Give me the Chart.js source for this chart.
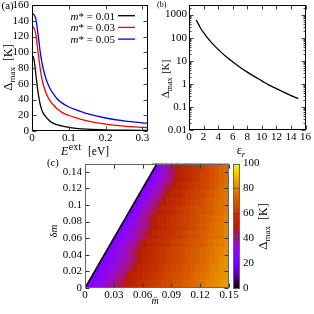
<!DOCTYPE html>
<html>
<head>
<meta charset="utf-8">
<script src="https://cdn.jsdelivr.net/npm/chart.js@4.4.1/dist/chart.umd.min.js"></script>
<style>
html, body { margin: 0; padding: 0; background: #fff; }
#cizim { position: relative; width: 314px; height: 314px; }
#cizim canvas { position: absolute; left: 0; top: 0; }
</style>
</head>
<body>
<div id="cizim">
<canvas id="grafikA" width="314" height="314"></canvas>
<canvas id="grafikB" width="314" height="314"></canvas>
<canvas id="grafikC" width="314" height="314"></canvas>
</div>
<script>
const SERIF = "'Liberation Serif', 'DejaVu Serif', serif";

// (a) Delta_max vs E_ext for three m*
const eExt = [0, 0.005, 0.01, 0.015, 0.02, 0.025, 0.03, 0.04, 0.05, 0.06, 0.07, 0.08, 0.1, 0.12, 0.15, 0.2, 0.25, 0.3, 0.315];
const delta001 = [96, 92, 74, 54, 39, 29, 23, 16.7, 12.2, 9.4, 7.8, 6.4, 4.5, 3.3, 2.3, 1.4, 0.95, 0.65, 0.6];
const delta003 = [133, 131, 124, 106, 87, 71, 60, 46, 37.7, 32, 27.7, 24, 19.7, 16.8, 13, 8.8, 6.3, 4.7, 4.3];
const delta005 = [149, 148, 143, 128, 109, 92, 80, 63.5, 53, 46, 40, 36, 30.5, 26.8, 22, 16.5, 12.8, 10.3, 9.7];
const mStarLabels = ["0.01", "0.03", "0.05"];
const aXTicks = [0, 0.1, 0.2, 0.3];
const aYTicks = [0, 20, 40, 60, 80, 100, 120, 140, 160];

// (b) Delta_max vs eps_r
const epsR = [1, 1.5, 2, 3, 4, 5, 6, 7, 8, 9, 10, 11, 12, 13, 14, 15];
const deltaEps = [580, 290, 165, 66, 31, 16, 9, 5.2, 3.2, 2.05, 1.35, 0.88, 0.62, 0.44, 0.31, 0.23];
const bXTicks = [0, 2, 4, 6, 8, 10, 12, 14, 16];
const bYTicks = [0.01, 0.1, 1, 10, 100, 1000];

// (c) Delta_max over (m bar, delta m)
const _ = null;
const mBar = [0.0025, 0.0075, 0.0125, 0.0175, 0.0225, 0.0275, 0.0325, 0.0375, 0.0425, 0.0475,
              0.0525, 0.0575, 0.0625, 0.0675, 0.0725, 0.0775, 0.0825, 0.0875, 0.0925, 0.0975,
              0.1025, 0.1075, 0.1125, 0.1175, 0.1225, 0.1275, 0.1325, 0.1375, 0.1425, 0.1475];
const deltaMRows = [0.005, 0.015, 0.025, 0.035, 0.045, 0.055, 0.065, 0.075, 0.085, 0.095, 0.105, 0.115, 0.125, 0.135, 0.145];
const haritaDeger = [
  [22,26,29,32,35,38,41,45,50,53,55,57,58,60,62,63,65,66,68,70,71,73,74,76,77,79,81,82,84,85],
  [_,22,26,29,32,35,38,41,45,50,53,55,57,58,60,62,63,65,67,68,70,71,73,75,76,78,79,81,82,84],
  [_,_,22,26,29,32,35,38,41,45,50,53,55,57,58,60,62,64,65,67,69,70,72,74,75,77,79,80,82,83],
  [_,_,_,22,26,29,32,35,38,41,45,50,53,55,57,58,60,62,64,65,67,69,71,72,74,76,78,79,81,83],
  [_,_,_,_,22,27,31,34,37,41,45,50,53,55,57,58,60,62,64,65,67,69,70,72,74,75,77,79,80,82],
  [_,_,_,_,_,22,27,31,34,37,41,45,50,53,55,57,58,60,62,64,65,67,69,71,72,74,76,78,79,81],
  [_,_,_,_,_,_,22,27,31,34,37,41,45,50,53,55,57,58,60,62,64,66,67,69,71,73,75,76,78,80],
  [_,_,_,_,_,_,_,22,27,31,34,37,41,45,50,53,55,57,59,61,62,64,66,68,70,72,74,76,78,80],
  [_,_,_,_,_,_,_,_,22,28,32,36,40,45,50,53,55,57,59,61,62,64,66,68,70,72,73,75,77,79],
  [_,_,_,_,_,_,_,_,_,22,28,32,36,40,45,50,53,55,57,59,61,63,65,67,68,70,72,74,76,78],
  [_,_,_,_,_,_,_,_,_,_,22,28,32,36,40,45,50,53,55,57,59,61,63,65,67,70,72,74,76,78],
  [_,_,_,_,_,_,_,_,_,_,_,22,28,32,36,40,45,50,53,55,57,60,62,64,66,68,70,73,75,77],
  [_,_,_,_,_,_,_,_,_,_,_,_,22,28,32,36,40,45,50,53,55,57,60,62,64,66,69,71,74,76],
  [_,_,_,_,_,_,_,_,_,_,_,_,_,22,28,32,36,40,45,50,53,55,58,60,63,65,68,70,73,75],
  [_,_,_,_,_,_,_,_,_,_,_,_,_,_,22,29,34,39,45,50,53,55,58,60,63,65,68,70,73,75]
];
const sinirM = [0, 0.075];
const sinirDm = [0, 0.15];
const cXTicks = [0, 0.03, 0.06, 0.09, 0.12, 0.15];
const cYTicks = [0, 0.02, 0.04, 0.06, 0.08, 0.1, 0.12, 0.14];
const renkTicks = [0, 20, 40, 60, 80, 100];

Chart.defaults.font.family = SERIF;
Chart.defaults.font.size = 11;
Chart.defaults.color = "#000";

// gnuplot 7,5,15 palette
function palet(t) {
    t = Math.min(1, Math.max(0, t));
    const r = Math.sqrt(t), g = t * t * t, b = Math.max(0, Math.sin(2 * Math.PI * t));
    return "rgb(" + Math.round(r * 255) + "," + Math.round(g * 255) + "," + Math.round(b * 255) + ")";
}

function yaz(ctx, parcalar, x, y, hiza) {
    let w = 0;
    parcalar.forEach(p => {
        ctx.font = (p.i ? "italic " : "") + p.f + "px " + SERIF;
        p.w = ctx.measureText(p.t).width;
        w += (p.gap || 0) + p.w;
    });
    let cx = hiza === "center" ? x - w / 2 : hiza === "right" ? x - w : x;
    ctx.textAlign = "left";
    ctx.textBaseline = "alphabetic";
    parcalar.forEach(p => {
        cx += p.gap || 0;
        ctx.font = (p.i ? "italic " : "") + p.f + "px " + SERIF;
        ctx.fillText(p.t, cx, y + (p.dy || 0));
        cx += p.w;
    });
}

function dikey(ctx, parcalar, x, y) {
    ctx.save();
    ctx.translate(x, y);
    ctx.rotate(-Math.PI / 2);
    yaz(ctx, parcalar, 0, 0, "center");
    ctx.restore();
}

function eksen(tikler, ekstra) {
    return Object.assign({
        type: "linear",
        grid: { display: false, drawTicks: false },
        border: { display: false },
        ticks: { padding: 3, autoSkip: false, maxRotation: 0, callback: v => String(v) },
        afterBuildTicks: s => { s.ticks = tikler.map(v => ({ value: v })); }
    }, ekstra);
}

function boyut(w, h) {
    return s => {
        if (w !== null) s.width = w;
        if (h !== null) s.height = h;
        s.paddingLeft = 0; s.paddingRight = 0; s.paddingTop = 0; s.paddingBottom = 0;
    };
}

// frame with inward ticks on all four sides
function cerceve(cerceveRenk, tikRenk, boy, logMinor) {
    return {
        id: "cerceve",
        afterDatasetsDraw(chart) {
            const ctx = chart.ctx, a = chart.chartArea;
            const x = chart.scales.x, y = chart.scales.y;
            const l = Math.round(a.left) + 0.5, r = Math.round(a.right) - 0.5;
            const t = Math.round(a.top) + 0.5, b = Math.round(a.bottom) - 0.5;
            ctx.save();
            ctx.lineWidth = 1;
            ctx.strokeStyle = tikRenk;
            ctx.beginPath();
            x.ticks.forEach(tk => {
                const px = Math.round(x.getPixelForValue(tk.value)) + 0.5;
                ctx.moveTo(px, b); ctx.lineTo(px, b - boy);
                ctx.moveTo(px, t); ctx.lineTo(px, t + boy);
            });
            y.ticks.forEach(tk => {
                const py = Math.round(y.getPixelForValue(tk.value)) + 0.5;
                ctx.moveTo(l, py); ctx.lineTo(l + boy, py);
                ctx.moveTo(r, py); ctx.lineTo(r - boy, py);
            });
            if (logMinor) {
                y.ticks.forEach(tk => {
                    for (let k = 2; k <= 9; k++) {
                        const v = tk.value * k;
                        if (v >= y.max) break;
                        const py = Math.round(y.getPixelForValue(v)) + 0.5;
                        ctx.moveTo(l, py); ctx.lineTo(l + boy / 2, py);
                        ctx.moveTo(r, py); ctx.lineTo(r - boy / 2, py);
                    }
                });
            }
            ctx.stroke();
            ctx.strokeStyle = cerceveRenk;
            ctx.strokeRect(l, t, r - l, b - t);
            ctx.restore();
        }
    };
}

function seri(xs, ys, renk) {
    return {
        data: xs.map((v, i) => ({ x: v, y: ys[i] })),
        showLine: true,
        borderColor: renk,
        borderWidth: 1.3,
        pointRadius: 0,
        fill: false,
        cubicInterpolationMode: "monotone"
    };
}

const ortak = {
    responsive: false,
    animation: false,
    events: [],
    plugins: { legend: { display: false }, tooltip: { enabled: false } }
};

// ---------- (a)
const cizgiRenk = ["#000000", "#ff0000", "#0000ff"];

new Chart(document.getElementById("grafikA"), {
    type: "scatter",
    data: {
        datasets: [
            seri(eExt, delta001, cizgiRenk[0]),
            seri(eExt, delta003, cizgiRenk[1]),
            seri(eExt, delta005, cizgiRenk[2])
        ]
    },
    options: Object.assign({}, ortak, {
        layout: { padding: { left: 0, top: 5, right: 166, bottom: 163 } },
        scales: {
            x: eksen(aXTicks, { min: 0, max: 0.315, afterFit: boyut(null, 20),
                ticks: { padding: 1, autoSkip: false, maxRotation: 0, callback: v => String(v) } }),
            y: eksen(aYTicks, { min: 0, max: 160, afterFit: boyut(32, null) })
        }
    }),
    plugins: [cerceve("#000", "#444", 4, false), {
        id: "yaziA",
        afterDraw(chart) {
            const ctx = chart.ctx;
            ctx.save();
            ctx.fillStyle = "#000";
            yaz(ctx, [{ t: "(a)", f: 11 }], 1.5, 8.5, "left");
            dikey(ctx, [{ t: "Δ", f: 13 }, { t: "max", f: 9, dy: 3 }, { t: "[K]", f: 12, gap: 6 }], 11.5, 67.5);
            yaz(ctx, [{ t: "E", f: 12, i: true }, { t: "ext", f: 10, dy: -5.5, gap: 0.5 }, { t: "[eV]", f: 11.5, gap: 7 }], 85, 155, "center");
            mStarLabels.forEach((lab, i) => {
                const yy = 15.7 + i * 11.7;
                yaz(ctx, [{ t: "m", f: 11, i: true }, { t: "* = " + lab, f: 11 }], 115, yy + 3.8, "right");
                ctx.strokeStyle = cizgiRenk[i];
                ctx.lineWidth = 1.3;
                ctx.beginPath();
                ctx.moveTo(118, yy);
                ctx.lineTo(135, yy);
                ctx.stroke();
            });
            ctx.restore();
        }
    }]
});

// ---------- (b)
new Chart(document.getElementById("grafikB"), {
    type: "scatter",
    data: { datasets: [seri(epsR, deltaEps, "#000")] },
    options: Object.assign({}, ortak, {
        layout: { padding: { left: 156, top: 5, right: 8.5, bottom: 164 } },
        scales: {
            x: eksen(bXTicks, { min: 0, max: 16, afterFit: boyut(null, 20),
                ticks: { padding: 1, autoSkip: false, maxRotation: 0, callback: v => String(v) } }),
            y: eksen(bYTicks, { type: "logarithmic", min: 0.01, max: 2600, afterFit: boyut(33, null),
                ticks: { padding: 2, autoSkip: false, callback: v => String(v) } })
        }
    }),
    plugins: [cerceve("#000", "#444", 4, true), {
        id: "yaziB",
        afterDraw(chart) {
            const ctx = chart.ctx;
            ctx.save();
            ctx.fillStyle = "#000";
            yaz(ctx, [{ t: "(b)", f: 8 }], 157, 6.5, "left");
            dikey(ctx, [{ t: "Δ", f: 11 }, { t: "max", f: 8, dy: 2.5 }, { t: "[K]", f: 10, gap: 4 }], 169, 79);
            yaz(ctx, [{ t: "ε", f: 12 }, { t: "r", f: 9, i: true, dy: 3 }], 241, 153.5, "center");
            ctx.restore();
        }
    }]
});

// ---------- (c)
new Chart(document.getElementById("grafikC"), {
    type: "scatter",
    data: {
        datasets: [{
            data: sinirM.map((v, i) => ({ x: v, y: sinirDm[i] })),
            showLine: true,
            borderColor: "#000",
            borderWidth: 1.5,
            backgroundColor: "#fff",
            pointRadius: 0,
            fill: "end"
        }]
    },
    options: Object.assign({}, ortak, {
        layout: { padding: { left: 0, top: 163.5, right: 0, bottom: 6 } },
        scales: {
            x: eksen(cXTicks, { min: 0, max: 0.15, afterFit: boyut(null, 20),
                ticks: { padding: 1, autoSkip: false, maxRotation: 0, callback: v => String(v) } }),
            y: eksen(cYTicks, { min: 0, max: 0.15, afterFit: boyut(85, null) }),
            y2: eksen(renkTicks, { position: "right", min: 0, max: 100, afterFit: boyut(85, null),
                ticks: { padding: 14, autoSkip: false, callback: v => String(v) } })
        }
    }),
    plugins: [{
        id: "harita",
        beforeDatasetsDraw(chart) {
            const ctx = chart.ctx, a = chart.chartArea;
            const x = chart.scales.x, y = chart.scales.y;
            const hw = (mBar[1] - mBar[0]) / 2, hh = (deltaMRows[1] - deltaMRows[0]) / 2;
            ctx.save();
            ctx.beginPath();
            ctx.rect(a.left, a.top, a.right - a.left, a.bottom - a.top);
            ctx.clip();
            haritaDeger.forEach((satir, k) => {
                satir.forEach((v, j) => {
                    if (v === null) return;
                    const x0 = Math.floor(x.getPixelForValue(mBar[j] - hw));
                    const x1 = Math.ceil(x.getPixelForValue(mBar[j] + hw));
                    const y0 = Math.floor(y.getPixelForValue(deltaMRows[k] + hh));
                    const y1 = Math.ceil(y.getPixelForValue(deltaMRows[k] - hh));
                    ctx.fillStyle = palet(v / 100);
                    ctx.fillRect(x0, y0, x1 - x0, y1 - y0);
                });
            });
            ctx.restore();
        }
    }, cerceve("#666", "#333", 4, false), {
        id: "renkCubugu",
        afterDraw(chart) {
            const ctx = chart.ctx, s = chart.scales.y2;
            const ust = s.getPixelForValue(100), alt = s.getPixelForValue(0);
            const sol = Math.round(s.left) + 4, gen = 7;
            ctx.save();
            const g = ctx.createLinearGradient(0, alt, 0, ust);
            for (let i = 0; i <= 40; i++) g.addColorStop(i / 40, palet(i / 40));
            ctx.fillStyle = g;
            ctx.fillRect(sol, ust, gen, alt - ust);
            ctx.strokeStyle = "#333";
            ctx.lineWidth = 1;
            ctx.beginPath();
            renkTicks.forEach(v => {
                const py = Math.round(s.getPixelForValue(v)) + 0.5;
                ctx.moveTo(sol, py); ctx.lineTo(sol + 2.5, py);
                ctx.moveTo(sol + gen, py); ctx.lineTo(sol + gen - 2.5, py);
            });
            ctx.stroke();
            ctx.strokeStyle = "#666";
            ctx.strokeRect(sol + 0.5, Math.round(ust) + 0.5, gen - 1, Math.round(alt - ust) - 1);

            ctx.fillStyle = "#000";
            yaz(ctx, [{ t: "(c)", f: 10.5 }], 47, 166, "left");
            dikey(ctx, [{ t: "δ", f: 11 }, { t: "m", f: 11, i: true }], 56.5, 231);
            yaz(ctx, [{ t: "m\u0304", f: 10, i: true }], 155, 304, "center");
            dikey(ctx, [{ t: "Δ", f: 13 }, { t: "max", f: 9, dy: 3 }, { t: "[K]", f: 12, gap: 6 }], 266.5, 226.5);
            ctx.restore();
        }
    }]
});
</script>
</body>
</html>
